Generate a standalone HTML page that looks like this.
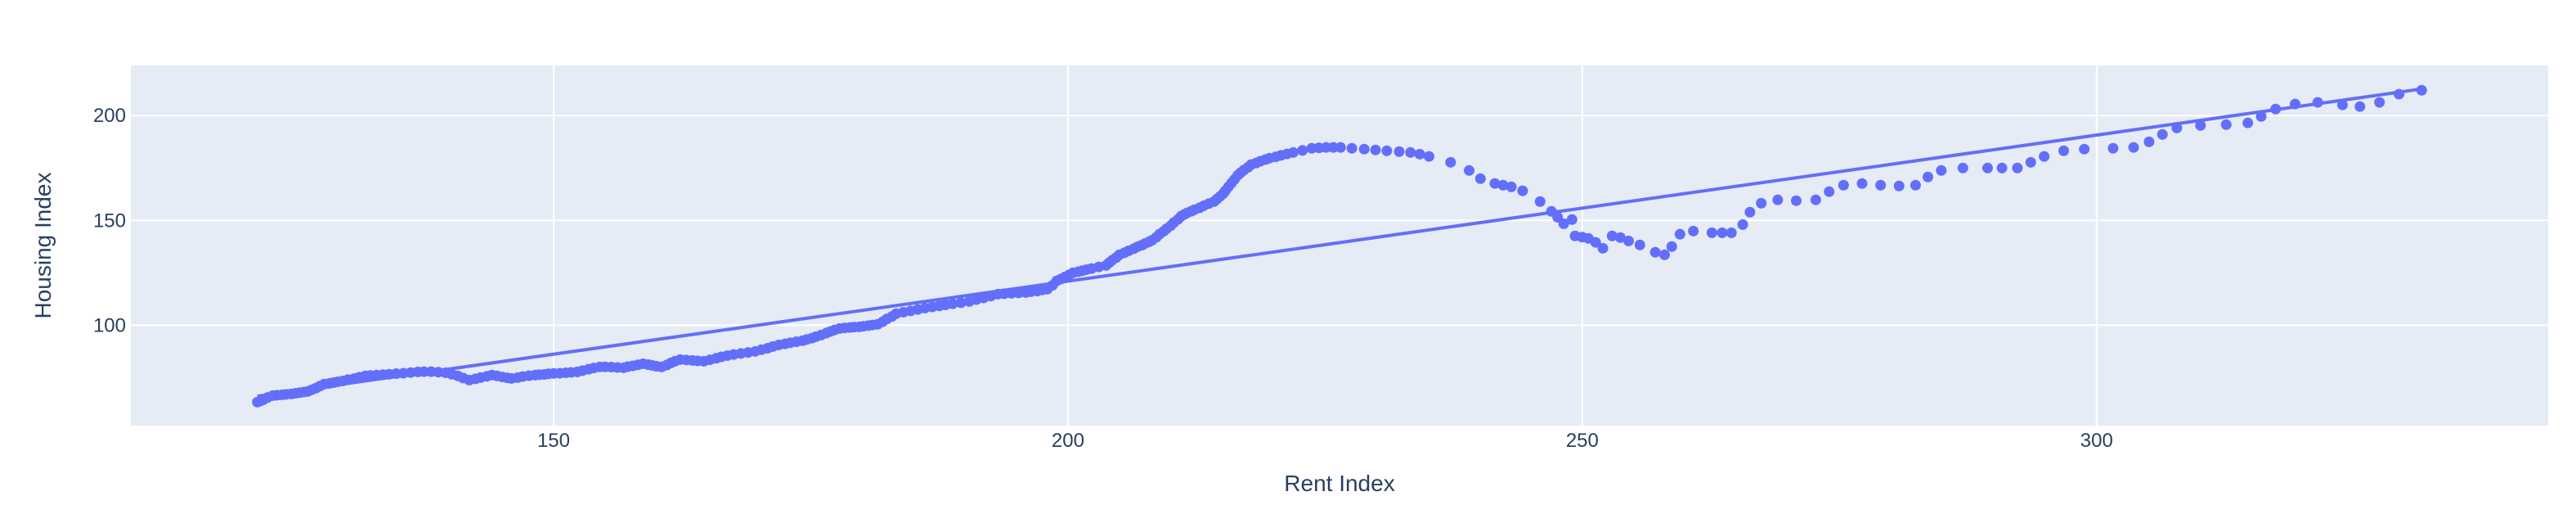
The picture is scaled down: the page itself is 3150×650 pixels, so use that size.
<!DOCTYPE html>
<html><head><meta charset="utf-8"><style>
html,body{margin:0;padding:0;background:#fff;}
svg{display:block;font-family:"Liberation Sans",sans-serif;}
</style></head><body>
<svg id="chart" width="3150" height="650" xmlns="http://www.w3.org/2000/svg">
<rect x="160" y="80" width="2956" height="440" fill="#E5ECF6"/>
<g id="grid"></g>
<g id="ticks"></g>
<g id="marks"></g>
<text x="1638" y="600" font-size="28" fill="#2a3f5f" text-anchor="middle">Rent Index</text>
<text transform="translate(62,300) rotate(-90)" font-size="28" fill="#2a3f5f" text-anchor="middle">Housing Index</text>
</svg>
<script>
const rent = [121.2,121.5,121.8,122.2,122.7,123.1,123.6,124.0,124.5,124.9,125.3,125.7,126.1,126.5,126.9,127.3,127.7,128.2,128.6,129.0,129.5,130.0,130.6,131.1,131.7,132.2,132.8,133.4,134.0,134.7,135.4,136.1,136.8,137.4,138.1,138.8,139.5,140.1,140.7,141.2,141.8,142.4,142.9,143.5,144.0,144.5,145.0,145.5,145.9,146.5,147.0,147.6,148.2,148.6,149.1,149.5,150,150.6,151.2,151.7,152.3,152.8,153.4,153.9,154.5,155.0,155.6,156.2,156.8,157.2,157.7,158.2,158.7,159.2,159.6,160.0,160.5,161.0,161.4,161.8,162.3,162.9,163.5,164.0,164.6,165.2,165.8,166.3,166.9,167.5,168.2,168.9,169.6,170.2,170.8,171.3,171.9,172.5,173.0,173.6,174.2,174.6,175.1,175.5,176.0,176.5,176.9,177.3,177.8,178.3,178.8,179.2,179.7,180.1,180.6,181.0,181.5,182.0,182.4,182.9,183.3,184.0,184.7,185.4,186.1,186.8,187.5,188.1,188.8,189.6,190.4,191.1,191.8,192.5,193.2,193.8,194.5,195.2,195.9,196.4,197.0,197.5,198.0,198.5,198.9,199.3,199.7,200.1,200.5,201.0,201.4,201.8,202.3,203.0,203.7,204.0,204.3,204.7,205.0,205.5,205.9,206.4,206.8,207.2,207.5,207.9,208.2,208.6,208.9,209.3,209.6,210.0,210.3,210.7,211.0,211.3,211.6,212.0,212.3,212.8,213.2,213.7,214.2,214.5,214.8,215.1,215.3,215.6,215.9,216.2,216.5,216.8,217.1,217.5,217.8,218.3,218.7,219.2,219.6,220.2,220.7,221.3,221.9,222.8,223.7,224.4,225.1,225.8,226.5,227.6,228.8,229.9,231.0,232.2,233.3,234.2,235.1,237.2,239.0,240.1,241.5,242.3,243.1,244.2,245.9,247.0,247.6,248.2,249.0,249.3,250.0,250.6,251.3,252.0,252.9,253.7,254.5,255.6,257.1,258.0,258.7,259.5,260.8,262.6,263.6,264.5,265.6,266.3,267.4,269.0,270.8,272.7,274.0,275.4,277.2,279.0,280.8,282.4,283.6,284.9,287.0,289.4,290.8,292.3,293.6,294.9,296.8,298.8,301.6,303.6,305.1,306.4,307.8,310.1,312.6,314.7,316.0,317.4,319.3,321.5,323.9,325.6,327.5,329.4,331.6];
const housing = [63.3,63.9,64.5,65.5,66.4,66.6,66.8,67.0,67.2,67.5,67.8,68.1,68.4,69.2,70.0,71.0,71.9,72.2,72.6,73.0,73.4,74.0,74.5,75.2,75.8,76.0,76.2,76.4,76.6,76.9,77.1,77.4,77.7,77.8,77.8,77.6,77.3,76.6,75.8,74.8,73.8,74.4,75.0,75.6,76.2,75.8,75.3,74.9,74.6,75.0,75.5,75.9,76.2,76.4,76.5,76.8,77.0,77.1,77.3,77.5,77.7,78.3,79.0,79.6,80.1,80.1,80.0,79.8,79.7,80.2,80.6,81.1,81.6,81.2,80.8,80.4,80.1,81.0,82.0,82.8,83.6,83.4,83.2,83.0,82.8,83.5,84.2,84.9,85.5,86.0,86.5,87.0,87.5,88.3,89.0,89.8,90.6,91.1,91.6,92.1,92.6,93.2,93.8,94.5,95.3,96.2,97.0,97.7,98.4,98.7,98.9,99.1,99.2,99.5,99.8,100.1,100.4,101.7,103.0,104.2,105.5,106.2,106.8,107.5,108.2,108.7,109.2,109.7,110.2,110.7,111.3,112.2,113.0,113.9,114.8,115.0,115.2,115.4,115.6,116.0,116.3,116.8,117.2,119.0,121.1,122.0,123.0,124.0,125.0,125.5,126.0,126.5,127.0,127.8,128.5,129.8,131.0,132.3,133.6,134.6,135.5,136.5,137.5,138.2,139.0,139.8,140.6,142.0,143.4,144.8,146.1,147.5,149.0,150.5,152.0,152.8,153.6,154.4,155.1,156.0,157.0,158.0,159.0,160.2,161.5,162.8,164.1,166.0,167.8,169.6,171.5,172.8,174.0,175.3,176.6,177.4,178.2,179.0,179.7,180.3,181.0,181.7,182.4,183.4,184.4,184.6,184.8,184.8,184.8,184.4,184.0,183.6,183.2,182.8,182.4,181.6,180.5,177.7,173.8,169.9,167.6,166.8,166.0,164.1,159.0,154.3,151.5,148.4,150.4,142.6,142.0,141.4,139.5,136.7,142.6,141.8,140.2,138.3,134.8,133.6,137.5,143.4,144.9,144.1,144.1,144.1,148.0,153.9,158.2,159.8,159.4,159.8,163.7,166.8,167.6,166.8,166.4,166.8,170.7,173.8,175.0,175.0,175.0,175.0,177.7,180.5,183.2,184.0,184.4,184.8,187.5,191.0,194.1,195.3,195.7,196.5,199.6,203.1,205.5,206.3,205.1,204.3,206.3,210.2,212.1];
const trendX = [121.2, 331.6];
const trendY = [66.1, 212.7];
const xTicks = [150, 200, 250, 300];
const yTicks = [100, 150, 200];

const NS = "http://www.w3.org/2000/svg";
const X0 = 160, X1 = 3116, Y0 = 80, Y1 = 520;
const xMin = 108.9, xMax = 343.9, yMin = 52.1, yMax = 223.9;
function sx(v){ return X0 + (v - xMin) / (xMax - xMin) * (X1 - X0); }
function sy(v){ return Y1 - (v - yMin) / (yMax - yMin) * (Y1 - Y0); }
function mk(tag, attrs, parent){ const e = document.createElementNS(NS, tag); for (const k in attrs) e.setAttribute(k, attrs[k]); parent.appendChild(e); return e; }

const grid = document.getElementById('grid');
const ticks = document.getElementById('ticks');
const marks = document.getElementById('marks');

xTicks.forEach(t => {
  const l = mk('line', {x1: sx(t), x2: sx(t), y1: Y0, y2: Y1, stroke: '#fff', 'stroke-width': 2}, grid);
  
  
  const tx = mk('text', {x: sx(t), y: 546, 'font-size': 24, fill: '#2a3f5f', 'text-anchor': 'middle'}, ticks);
  tx.textContent = t;
  
  
});
yTicks.forEach(t => {
  const l = mk('line', {x1: X0, x2: X1, y1: sy(t), y2: sy(t), stroke: '#fff', 'stroke-width': 2}, grid);
  
  
  const tx = mk('text', {x: 154, y: sy(t) + 8, 'font-size': 24, fill: '#2a3f5f', 'text-anchor': 'end'}, ticks);
  tx.textContent = t;
  
  
});

rent.forEach((r, i) => {
  const c = mk('circle', {cx: sx(r), cy: sy(housing[i]), r: 6.5, fill: '#636EFA'}, marks);
  
  
});

const tl = mk('line', {x1: sx(trendX[0]), y1: sy(trendY[0]), x2: sx(trendX[1]), y2: sy(trendY[1]), stroke: '#636EFA', 'stroke-width': 4}, marks);


</script>
</body></html>
